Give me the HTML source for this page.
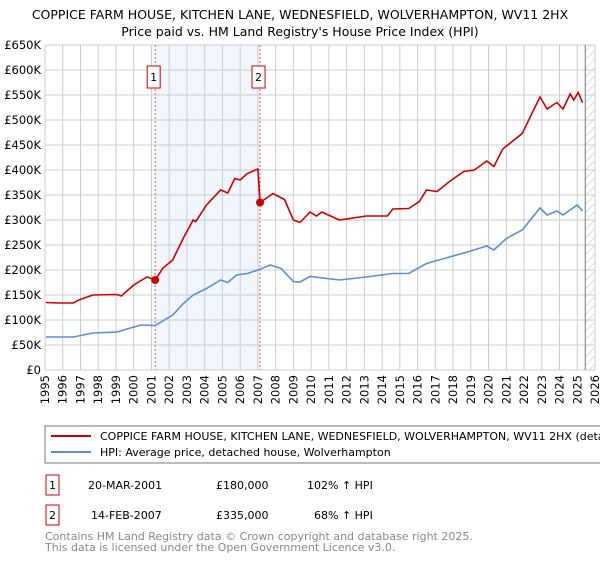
<!DOCTYPE html>
<html><head><meta charset="utf-8"><style>
body{margin:0;background:#fff;font-family:"DejaVu Sans","Liberation Sans",sans-serif;}
svg text{font-family:"DejaVu Sans","Liberation Sans",sans-serif;}
</style></head><body>
<svg id="c" width="600" height="560" xmlns="http://www.w3.org/2000/svg">
<defs><pattern id="hatch" width="6" height="6" patternUnits="userSpaceOnUse" patternTransform="rotate(45)"><line x1="0" y1="0" x2="0" y2="6" stroke="#bbb" stroke-width="1"/></pattern></defs>
<text x="300" y="19" text-anchor="middle" font-size="12.5">COPPICE FARM HOUSE, KITCHEN LANE, WEDNESFIELD, WOLVERHAMPTON, WV11 2HX</text>
<text x="300" y="36" text-anchor="middle" font-size="12.5">Price paid vs. HM Land Registry's House Price Index (HPI)</text>
<g id="plot"></g>
<g>
<rect x="45" y="426" width="570" height="37" fill="#fff" stroke="#777"/>
<line x1="51" y1="436" x2="91" y2="436" stroke="#cc0000" stroke-width="2"/>
<text x="100" y="440" font-size="11">COPPICE FARM HOUSE, KITCHEN LANE, WEDNESFIELD, WOLVERHAMPTON, WV11 2HX (detached house)</text>
<line x1="51" y1="452" x2="91" y2="452" stroke="#5b8fd0" stroke-width="2"/>
<text x="100" y="456" font-size="11">HPI: Average price, detached house, Wolverhampton</text>
</g>
<g font-size="11">
<rect x="46" y="475" width="13" height="20" fill="#fff" stroke="#cc0000"/>
<text x="52.5" y="489" text-anchor="middle">1</text>
<text x="88" y="489">20-MAR-2001</text>
<text x="216" y="489">£180,000</text>
<text x="307" y="489">102% ↑ HPI</text>
<rect x="46" y="505" width="13" height="20" fill="#fff" stroke="#cc0000"/>
<text x="52.5" y="519" text-anchor="middle">2</text>
<text x="91" y="519">14-FEB-2007</text>
<text x="216" y="519">£335,000</text>
<text x="314" y="519">68% ↑ HPI</text>
</g>
<text x="45" y="540" font-size="11" fill="#888">Contains HM Land Registry data © Crown copyright and database right 2025.</text>
<text x="45" y="551" font-size="11" fill="#888">This data is licensed under the Open Government Licence v3.0.</text>
</svg>
<script>
const yTicks=[0,50,100,150,200,250,300,350,400,450,500,550,600,650];
const yLabels=["£0","£50K","£100K","£150K","£200K","£250K","£300K","£350K","£400K","£450K","£500K","£550K","£600K","£650K"];
const xYears=[1995,1996,1997,1998,1999,2000,2001,2002,2003,2004,2005,2006,2007,2008,2009,2010,2011,2012,2013,2014,2015,2016,2017,2018,2019,2020,2021,2022,2023,2024,2025,2026];
const priceT=[1995.05,1995.8,1996.6,1996.9,1997.7,1999.06,1999.3,2000.0,2000.75,2001.21,2001.65,2002.2,2002.8,2003.35,2003.5,2004.1,2004.9,2005.3,2005.7,2006.0,2006.4,2007.0,2007.12,2007.85,2008.5,2009.0,2009.37,2009.94,2010.3,2010.6,2011.6,2013.1,2014.3,2014.6,2015.5,2016.1,2016.5,2017.1,2017.8,2018.6,2019.2,2019.9,2020.3,2020.8,2021.9,2022.4,2022.9,2023.3,2023.85,2024.2,2024.6,2024.8,2025.05,2025.3];
const priceV=[135,134,134,140,150,151,148,170,186,180,204,220,264,300,297,330,360,354,383,380,393,402,335,353,341,300,295,316,308,316,300,308,308,322,323,337,360,357,377,397,400,418,407,442,473,510,546,522,535,522,552,540,555,535];
const hpiT=[1995.05,1996.6,1997.7,1999.06,2000.4,2001.21,2002.2,2002.8,2003.35,2004.1,2004.9,2005.3,2005.8,2006.4,2007.0,2007.7,2008.3,2009.0,2009.37,2009.94,2011.6,2013.1,2014.6,2015.5,2016.5,2017.8,2018.8,2019.9,2020.3,2021.0,2021.9,2022.9,2023.3,2023.85,2024.2,2025.0,2025.3];
const hpiV=[66,66,74,76,90,89,110,133,150,163,180,175,190,193,200,210,203,177,176,187,180,186,193,193,213,226,236,248,240,263,280,324,310,318,310,330,318];
const sales=[{n:"1",t:2001.21,v:180},{n:"2",t:2007.12,v:335}];
const dataEnd=2025.45;
const X0=45,X1=595,Y0=370,Y1=45;
const x=t=>X0+(t-1995)/(2026-1995)*(X1-X0);
const y=v=>Y0-v/650*(Y0-Y1);
const NS="http://www.w3.org/2000/svg";
const g=document.getElementById('plot');
function mk(tag,attrs){const e=document.createElementNS(NS,tag);for(const k in attrs)e.setAttribute(k,attrs[k]);g.appendChild(e);return e;}
let e;
e=mk('rect',{x:x(sales[0].t),y:Y1,width:x(sales[1].t)-x(sales[0].t),height:Y0-Y1,fill:'#eef2fb',opacity:0.8});


e=mk('rect',{x:x(dataEnd),y:Y1,width:X1-x(dataEnd),height:Y0-Y1,fill:'url(#hatch)'});


yTicks.forEach((v,i)=>{
 e=mk('line',{x1:X0,x2:X1,y1:y(v),y2:y(v),stroke:'#ccc','stroke-width':1});
 
 
 e=mk('text',{x:X0-4,y:y(v)+4,'text-anchor':'end','font-size':'11.5'});e.textContent=yLabels[i];
 
 
});
xYears.forEach(yr=>{
 e=mk('line',{x1:x(yr),x2:x(yr),y1:Y1,y2:Y0,stroke:'#ccc','stroke-width':1});
 
 
 e=mk('text',{x:0,y:0,'text-anchor':'end','font-size':'11.5',transform:`translate(${x(yr)+4},${Y0+5}) rotate(-90)`});e.textContent=yr;
 
 
});
e=mk('line',{x1:x(dataEnd),x2:x(dataEnd),y1:Y1,y2:Y0,stroke:'#777','stroke-width':1});


sales.forEach(s=>{
 e=mk('line',{x1:x(s.t),x2:x(s.t),y1:Y1,y2:Y0,stroke:'#e06060','stroke-width':1,'stroke-dasharray':'2,2'});
 
 
});
e=mk('polyline',{points:hpiT.map((t,i)=>x(t)+','+y(hpiV[i])).join(' '),fill:'none',stroke:'#5b8fd0','stroke-width':1.6});


e=mk('polyline',{points:priceT.map((t,i)=>x(t)+','+y(priceV[i])).join(' '),fill:'none',stroke:'#cc0000','stroke-width':1.6});


sales.forEach(s=>{
 e=mk('circle',{cx:x(s.t),cy:y(s.v),r:4,fill:'#cc0000'});
 
 
 e=mk('rect',{x:x(s.t)-8,y:66,width:13,height:22,fill:'#fff',stroke:'#cc0000'});
 
 
 e=mk('text',{x:x(s.t)-1.5,y:81,'text-anchor':'middle','font-size':'11'});e.textContent=s.n;
 
 
});
</script>
</body></html>
